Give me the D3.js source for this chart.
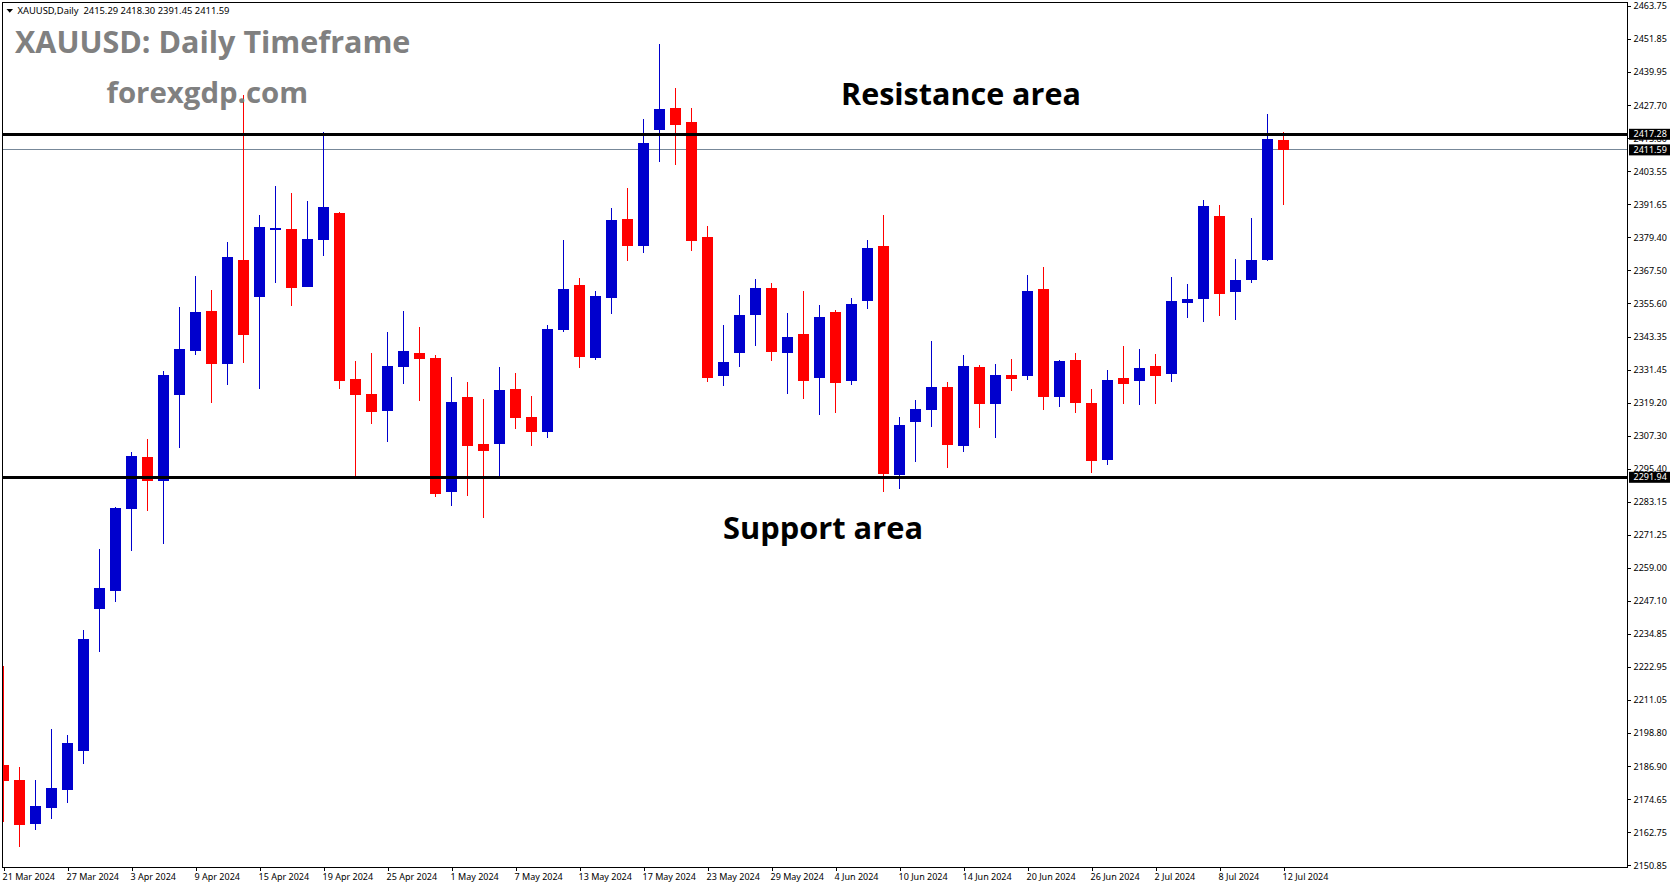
<!DOCTYPE html>
<html>
<head>
<meta charset="utf-8">
<title>XAUUSD Daily</title>
<script src="https://d3js.org/d3.v7.min.js"></script>
<style>
    html, body { margin: 0; padding: 0; background: #fff; overflow: hidden; }
    svg { display: block; }
    .tick text, .small { font-family: "Noto Sans", sans-serif; font-size: 9px; fill: #000; }
    .big { font-family: "Open Sans", sans-serif; font-weight: 700; }
</style>
</head>
<body>
<svg id="chart" width="1673" height="888"></svg>
<script>
const opens = [2186.81,2181.33,2165.25,2171.10,2177.68,2191.93,2243.82,2250.40,2280.36,2299.36,
    2290.59,2322.02,2338.10,2352.71,2333.35,2371.35,2357.83,2382.31,2382.68,2361.48,
    2378.66,2388.53,2327.87,2322.38,2316.17,2332.25,2337.37,2335.54,2286.57,2321.29,
    2304.11,2304.11,2324.21,2313.98,2308.50,2345.77,2362.22,2335.54,2357.46,2386.33,
    2376.47,2418.86,2426.89,2421.78,2379.76,2328.96,2337.37,2351.25,2361.12,2337.37,
    2344.31,2328.23,2352.35,2327.13,2356.37,2376.47,2292.79,2312.15,2316.54,2324.94,
    2303.38,2332.25,2318.73,2329.33,2328.96,2360.75,2321.29,2334.81,2319.10,2298.27,
    2328.23,2327.13,2332.62,2329.69,2355.64,2357.10,2387.43,2359.66,2364.04,2371.35,2415.29];
const highs = [2222.99,2186.08,2181.33,2199.97,2197.78,2236.15,2265.74,2281.09,2301.19,2305.94,
    2330.79,2354.18,2365.50,2360.39,2377.93,2431.65,2387.79,2398.39,2395.83,2392.91,
    2418.12,2388.89,2334.44,2337.37,2345.04,2352.71,2346.87,2336.64,2328.60,2326.77,
    2320.56,2332.25,2330.06,2321.65,2347.60,2378.66,2364.77,2360.02,2390.35,2397.66,
    2422.88,2450.28,2434.20,2426.89,2383.78,2347.60,2358.56,2364.41,2362.95,2351.98,
    2360.02,2354.91,2353.08,2357.46,2378.66,2387.79,2313.98,2320.19,2341.75,2326.77,
    2336.64,2332.98,2333.35,2335.17,2365.87,2368.79,2334.81,2337.37,2324.21,2331.15,
    2339.92,2338.83,2337.00,2365.14,2362.58,2393.28,2391.45,2371.72,2386.70,2424.70,2418.30];
const lows = [2165.99,2156.85,2163.06,2167.08,2172.93,2187.18,2228.11,2246.38,2265.01,2279.63,
    2267.57,2302.65,2336.64,2319.10,2325.67,2333.71,2324.21,2362.95,2354.54,2361.48,
    2372.81,2324.21,2292.42,2311.42,2304.84,2326.04,2319.83,2284.75,2281.46,2285.11,
    2277.07,2292.42,2309.59,2303.38,2306.31,2345.04,2331.89,2334.81,2351.62,2370.99,
    2373.91,2407.16,2406.07,2374.64,2326.77,2325.31,2332.25,2339.92,2334.44,2322.38,
    2320.56,2314.71,2315.44,2325.67,2353.45,2286.57,2287.67,2297.54,2310.33,2295.34,
    2301.19,2309.96,2306.31,2323.48,2327.50,2316.54,2317.63,2315.44,2293.52,2296.44,
    2318.73,2318.36,2318.73,2326.77,2350.16,2348.69,2350.89,2349.43,2362.95,2370.99,2391.45];
const closes = [2180.97,2164.89,2171.83,2178.41,2194.85,2232.86,2251.49,2280.73,2299.73,2290.59,
    2329.33,2338.83,2352.35,2333.35,2372.45,2343.94,2383.41,2383.04,2361.12,2379.02,
    2390.72,2327.13,2322.02,2315.81,2332.62,2338.10,2335.17,2285.84,2319.46,2303.38,
    2301.56,2323.85,2313.61,2308.50,2346.14,2360.75,2335.91,2358.20,2385.97,2376.47,
    2414.10,2426.53,2420.68,2378.29,2328.23,2334.08,2351.25,2361.12,2337.73,2343.21,
    2327.13,2350.52,2326.40,2355.27,2375.74,2293.15,2311.06,2316.90,2324.94,2303.75,
    2332.62,2318.73,2329.33,2327.87,2360.02,2321.29,2334.44,2319.10,2297.90,2327.50,
    2326.04,2331.89,2328.96,2356.37,2357.10,2391.08,2358.93,2364.04,2371.35,2415.57,2411.59];

const dateLabels = ["21 Mar 2024","27 Mar 2024","3 Apr 2024","9 Apr 2024","15 Apr 2024","19 Apr 2024",
    "25 Apr 2024","1 May 2024","7 May 2024","13 May 2024","17 May 2024","23 May 2024","29 May 2024",
    "4 Jun 2024","10 Jun 2024","14 Jun 2024","20 Jun 2024","26 Jun 2024","2 Jul 2024","8 Jul 2024","12 Jul 2024"];
const priceLabels = ["2463.75","2451.85","2439.95","2427.70","2415.80","2403.55","2391.65","2379.40","2367.50",
    "2355.60","2343.35","2331.45","2319.20","2307.30","2295.40","2283.15","2271.25","2259.00","2247.10",
    "2234.85","2222.95","2211.05","2198.80","2186.90","2174.65","2162.75","2150.85"];
const levels = [2417.28, 2291.94];
const bid = 2411.59;
const header = "XAUUSD,Daily  2415.29 2418.30 2391.45 2411.59";

const COL_UP = "#0000CD";
const COL_DOWN = "#FF0000";
const LEFT = 2.5, RIGHT = 1627.5, TOP = 2.5, BOTTOM = 867.5;
const BODY_W = 11;

const svg = d3.select("#chart");

const x = d3.scaleLinear().domain([0, opens.length - 1]).range([3.5, 1283.5]);
const y = d3.scaleLinear().domain([2150.85, 2463.75]).range([863.4, 7.14]);
// MT4 prints its price labels at even pixel steps, so they get their own scale
const yLabels = d3.scalePoint().domain(priceLabels).range([6, 865.3]);

svg.append("defs").append("clipPath").attr("id", "plot")
    .append("rect")
    .attr("x", LEFT).attr("y", TOP)
    .attr("width", RIGHT - LEFT).attr("height", BOTTOM - TOP);

const plot = svg.append("g").attr("clip-path", "url(#plot)");

// Bid line sits under the candles
plot.append("line")
    .attr("x1", LEFT).attr("x2", RIGHT)
    .attr("y1", y(bid)).attr("y2", y(bid))
    .attr("stroke", "#778899")
    .attr("shape-rendering", "crispEdges");

const candles = plot.append("g").attr("shape-rendering", "crispEdges")
    .selectAll("g")
    .data(opens.map((o, i) => ({ i, o, h: highs[i], l: lows[i], c: closes[i] })))
    .join("g")
    .attr("fill", d => d.c >= d.o ? COL_UP : COL_DOWN);

candles.append("rect")
    .attr("x", d => Math.floor(x(d.i)))
    .attr("width", 1)
    .attr("y", d => y(d.h))
    .attr("height", d => y(d.l) - y(d.h));

candles.append("rect")
    .attr("x", d => x(d.i) - BODY_W / 2)
    .attr("width", BODY_W)
    .attr("y", d => y(Math.max(d.o, d.c)))
    .attr("height", d => Math.max(1, y(Math.min(d.o, d.c)) - y(Math.max(d.o, d.c))));

// Resistance and support lines
plot.selectAll(".level")
    .data(levels)
    .join("line")
    .attr("class", "level")
    .attr("x1", LEFT).attr("x2", RIGHT)
    .attr("y1", d => y(d)).attr("y2", d => y(d))
    .attr("stroke", "#000")
    .attr("stroke-width", 3)
    .attr("shape-rendering", "crispEdges");

// Frame
svg.append("rect")
    .attr("x", LEFT).attr("y", TOP)
    .attr("width", RIGHT - LEFT).attr("height", BOTTOM - TOP)
    .attr("fill", "none")
    .attr("stroke", "#000")
    .attr("shape-rendering", "crispEdges");

// Axes
const axisY = svg.append("g")
    .attr("transform", `translate(${RIGHT},0)`)
    .call(d3.axisRight(yLabels).tickSize(3).tickPadding(3));
const axisX = svg.append("g")
    .attr("transform", `translate(0,${BOTTOM})`)
    .call(d3.axisBottom(x)
        .tickValues(d3.range(0, opens.length, 4))
        .tickFormat(i => dateLabels[i / 4])
        .tickSize(3).tickPadding(3));
axisY.select(".domain").remove();
axisX.select(".domain").remove();
svg.selectAll(".tick line").attr("shape-rendering", "crispEdges");
axisX.selectAll("text").attr("text-anchor", "start").attr("dx", -1.5);

// Price tags for the level lines and the bid
const tags = svg.selectAll(".tag")
    .data(levels.concat([bid]))
    .join("g")
    .attr("class", "tag")
    .attr("transform", d => `translate(1629,${y(d)})`);
tags.append("rect")
    .attr("y", -5.5).attr("width", 41).attr("height", 11)
    .attr("fill", "#000");
tags.append("text")
    .attr("class", "small")
    .attr("x", 4.5).attr("dy", "0.33em")
    .style("fill", "#fff")
    .text(d => d.toFixed(2));

// Header line
svg.append("path")
    .attr("d", d3.line()([[6.5, 9], [13, 9], [9.75, 12.8]]))
    .attr("fill", "#000");
svg.append("text")
    .attr("class", "small")
    .attr("x", 17.5).attr("y", 14)
    .style("font-size", "9.4px")
    .style("white-space", "pre")
    .text(header);

// Annotations
const notes = [
    { text: "XAUUSD: Daily Timeframe", x: 15, y: 53, size: 30.5, fill: "#808080" },
    { text: "forexgdp.com", x: 106.5, y: 103, size: 29.4, fill: "#808080" },
    { text: "Resistance area", x: 841, y: 105, size: 30.5, fill: "#000" },
    { text: "Support area", x: 723, y: 539, size: 30.8, fill: "#000" }
];
svg.selectAll(".big")
    .data(notes)
    .join("text")
    .attr("class", "big")
    .attr("x", d => d.x).attr("y", d => d.y)
    .attr("font-size", d => d.size)
    .attr("fill", d => d.fill)
    .text(d => d.text);
</script>
</body>
</html>
